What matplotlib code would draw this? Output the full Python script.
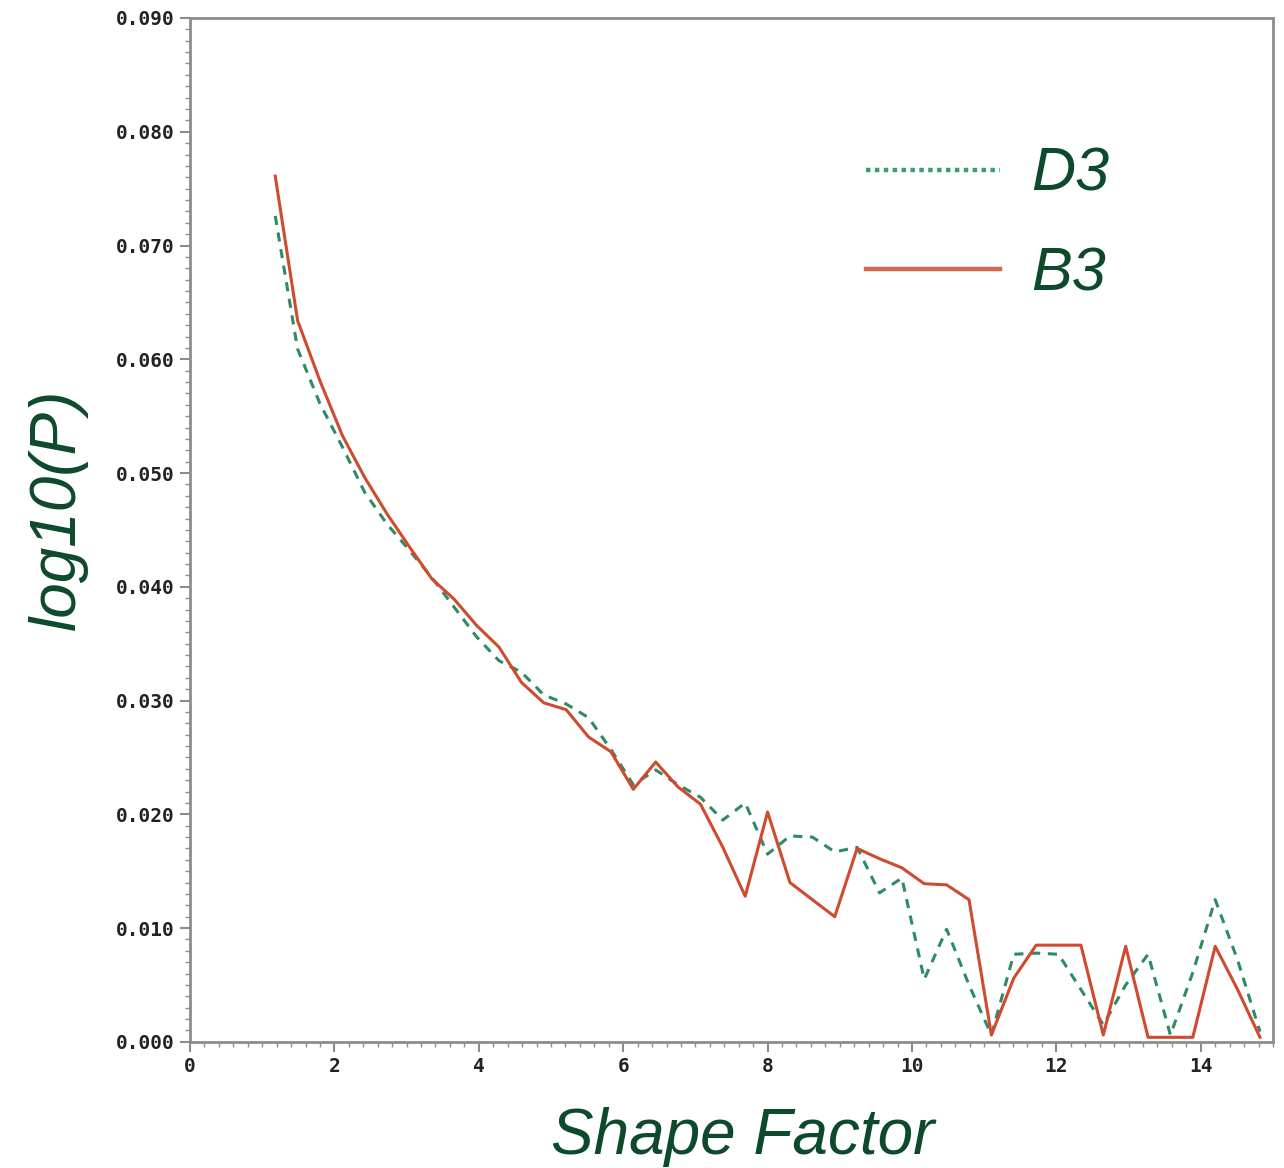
import matplotlib
matplotlib.use("Agg")
import matplotlib.pyplot as plt
from matplotlib.lines import Line2D
from matplotlib.ticker import MultipleLocator, FormatStrFormatter

# Shape factor bins shared by both series
shape_factor = [1.18, 1.49, 1.80, 2.11, 2.42, 2.73, 3.04, 3.35, 3.66, 3.97,
                4.28, 4.59, 4.90, 5.21, 5.52, 5.83, 6.14, 6.45, 6.76, 7.07,
                7.38, 7.69, 8.00, 8.31, 8.62, 8.93, 9.24, 9.55, 9.86, 10.17,
                10.48, 10.79, 11.10, 11.41, 11.72, 12.03, 12.34, 12.65, 12.96, 13.27,
                13.58, 13.89, 14.20, 14.51, 14.82]

d3_logp = [0.0726, 0.0609, 0.0561, 0.0523, 0.0483, 0.0455, 0.0432, 0.0408, 0.0382, 0.0356,
           0.0335, 0.0325, 0.0305, 0.0297, 0.0285, 0.0257, 0.0226, 0.0239, 0.0226, 0.0215,
           0.0195, 0.0210, 0.0165, 0.0181, 0.0180, 0.0167, 0.0171, 0.0131, 0.0144, 0.0055,
           0.0099, 0.0050, 0.0006, 0.0077, 0.0078, 0.0077, 0.0046, 0.0015, 0.0050, 0.0077,
           0.0006, 0.0061, 0.0125, 0.0072, 0.0009]

b3_logp = [0.0761, 0.0634, 0.0581, 0.0533, 0.0496, 0.0464, 0.0435, 0.0407, 0.0389, 0.0366,
           0.0347, 0.0316, 0.0298, 0.0292, 0.0268, 0.0255, 0.0222, 0.0246, 0.0224, 0.0209,
           0.0171, 0.0128, 0.0202, 0.0140, 0.0125, 0.0110, 0.0170, 0.0161, 0.0153, 0.0139,
           0.0138, 0.0125, 0.0006, 0.0056, 0.0085, 0.0085, 0.0085, 0.0006, 0.0084, 0.0004,
           0.0004, 0.0004, 0.0084, 0.0046, 0.0004]

series_names = ["D3", "B3"]

GREEN_LINE = "#2f8a66"
RED_LINE = "#cf4a2e"
LEGEND_GREEN = "#3a9e6e"
LEGEND_RED = "#d4694a"
TEXT_GREEN = "#0d4a2c"
SPINE = "#8c8c8c"

fig = plt.figure(figsize=(12.84, 11.68), dpi=100)
ax = fig.add_axes([0.148, 0.108, 0.8434, 0.8766])

ax.plot(shape_factor, d3_logp, color=GREEN_LINE, lw=2.2, ls=(0, (3, 2.5)))
ax.plot(shape_factor, b3_logp, color=RED_LINE, lw=2.2)

ax.set_xlim(0, 15)
ax.set_ylim(0, 0.090)
ax.xaxis.set_major_locator(MultipleLocator(2))
ax.xaxis.set_minor_locator(MultipleLocator(0.2))
ax.yaxis.set_major_locator(MultipleLocator(0.01))
ax.yaxis.set_minor_locator(MultipleLocator(0.001))
ax.yaxis.set_major_formatter(FormatStrFormatter("%.3f"))

for side in ["left", "bottom", "top", "right"]:
    ax.spines[side].set_color(SPINE)
    ax.spines[side].set_linewidth(2.0)

ax.tick_params(which="major", direction="out", length=7, width=1.5, color=SPINE, pad=4)
ax.tick_params(which="minor", direction="out", length=3.5, width=1.0, color=SPINE)
for lbl in ax.get_xticklabels() + ax.get_yticklabels():
    lbl.set_family("DejaVu Sans Mono")
    lbl.set_fontweight("bold")
    lbl.set_fontsize(14)
    lbl.set_color("#222222")

ax.set_xlabel("Shape Factor", family="Liberation Sans", style="italic",
              fontsize=46, color=TEXT_GREEN, labelpad=22)
ax.xaxis.label.set_x(0.51)
ax.set_ylabel("log10(P)", family="Liberation Sans", style="italic",
              fontsize=46, color=TEXT_GREEN, labelpad=20)
ax.yaxis.label.set_y(0.52)

handles = [
    Line2D([], [], color=LEGEND_GREEN, lw=3.2, ls=(0, (1, 1))),
    Line2D([], [], color=LEGEND_RED, lw=3.2),
]
leg = ax.legend(handles, series_names, loc="upper left",
                bbox_to_anchor=(0.624, 0.874), borderaxespad=0, borderpad=0,
                frameon=False, handlelength=2.2, handletextpad=0.5,
                labelspacing=0.7,
                prop={"family": "Liberation Sans", "style": "italic", "size": 44})
for txt in leg.get_texts():
    txt.set_color(TEXT_GREEN)

fig.savefig("out.png", dpi=100)
